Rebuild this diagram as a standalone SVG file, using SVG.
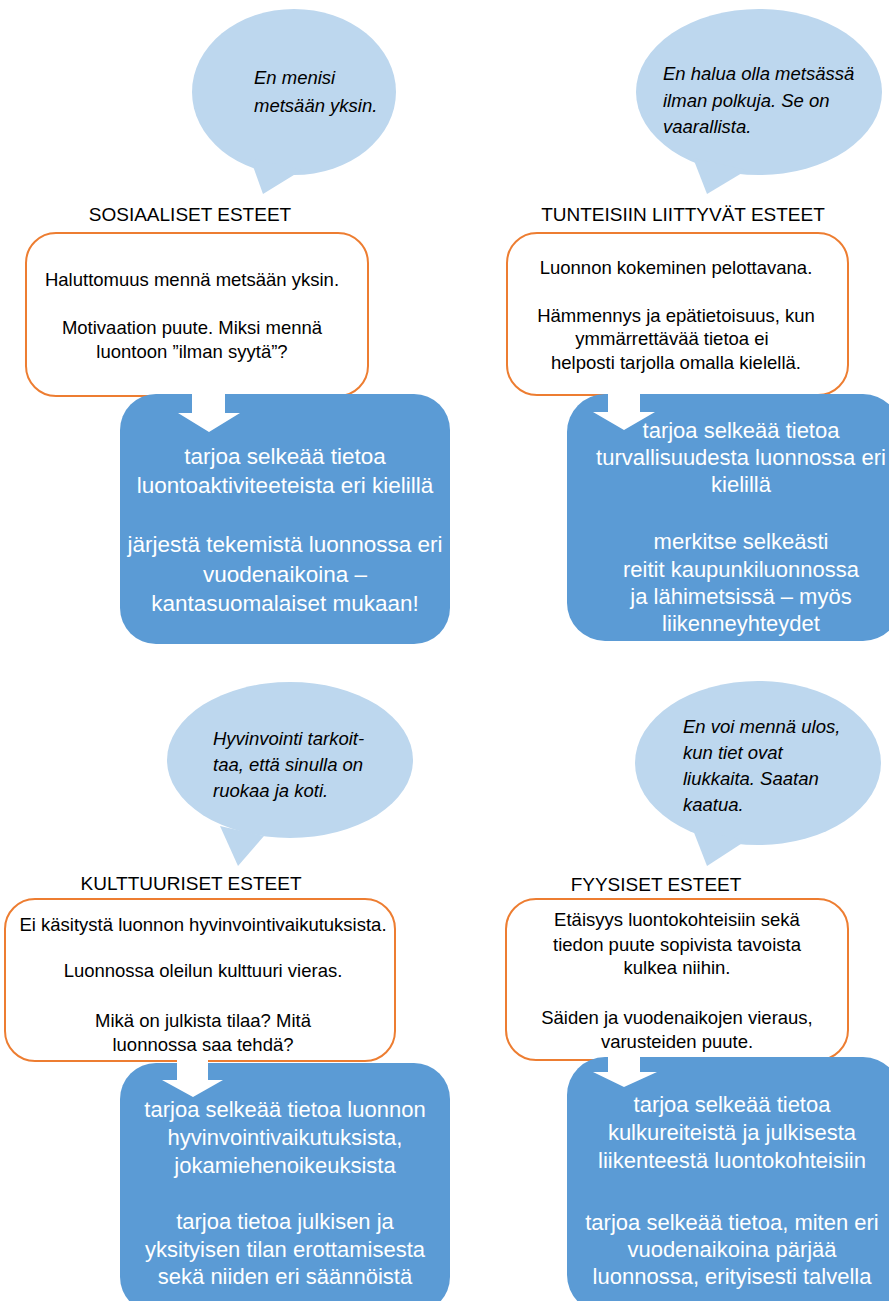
<svg xmlns="http://www.w3.org/2000/svg" width="889" height="1301" viewBox="0 0 889 1301">
<style>
.bub{fill:#BDD7EE;stroke:none}
.obox{fill:#FFFFFF;stroke:#ED7D31;stroke-width:2}
.bbox{fill:#5B9BD5;stroke:none}
.arr{fill:#FFFFFF;stroke:none}
text{font-family:"Liberation Sans",Arial,sans-serif}
.q{font-size:18.5px;font-style:italic;fill:#000}
.h{font-size:19px;fill:#000;text-anchor:middle}
.o{font-size:18.5px;fill:#000;text-anchor:middle}
.b{font-size:22px;fill:#FFFFFF;text-anchor:middle}
</style>
<rect width="889" height="1301" fill="#FFFFFF"/>

<g id="bubble-social">
<ellipse class="bub" cx="294" cy="92" rx="102" ry="83"/>
<polygon class="bub" points="250,158 302,170 263,194"/>
<text class="q" x="254" y="84">En menisi</text>
<text class="q" x="254" y="112">metsään yksin.</text>
</g>

<g id="bubble-emotional">
<ellipse class="bub" cx="759" cy="92" rx="123" ry="83"/>
<polygon class="bub" points="693,158 747,170 707,194"/>
<text class="q" x="663" y="80">En halua olla metsässä</text>
<text class="q" x="663" y="107">ilman polkuja. Se on</text>
<text class="q" x="663" y="133">vaarallista.</text>
</g>

<g id="bubble-cultural">
<ellipse class="bub" cx="290" cy="760" rx="123" ry="78"/>
<polygon class="bub" points="220,826 264,836 238,866"/>
<text class="q" x="213" y="745">Hyvinvointi tarkoit-</text>
<text class="q" x="213" y="771">taa, että sinulla on</text>
<text class="q" x="213" y="797">ruokaa ja koti.</text>
</g>

<g id="bubble-physical">
<ellipse class="bub" cx="758" cy="763" rx="123" ry="82"/>
<polygon class="bub" points="693,830 747,840 707,866"/>
<text class="q" x="683" y="733">En voi mennä ulos,</text>
<text class="q" x="683" y="759">kun tiet ovat</text>
<text class="q" x="683" y="785">liukkaita. Saatan</text>
<text class="q" x="683" y="811">kaatua.</text>
</g>

<g id="header-social"><text class="h" x="190" y="221">SOSIAALISET ESTEET</text></g>
<g id="header-emotional"><text class="h" x="683" y="221">TUNTEISIIN LIITTYVÄT ESTEET</text></g>
<g id="header-cultural"><text class="h" x="191" y="890">KULTTUURISET ESTEET</text></g>
<g id="header-physical"><text class="h" x="656" y="891">FYYSISET ESTEET</text></g>

<g id="barrier-social">
<rect class="obox" x="26" y="233" width="342" height="163" rx="30"/>
<text class="o" x="192" y="286">Haluttomuus mennä metsään yksin.</text>
<text class="o" x="192" y="334">Motivaation puute. Miksi mennä</text>
<text class="o" x="192" y="358">luontoon ”ilman syytä”?</text>
</g>

<g id="barrier-emotional">
<rect class="obox" x="507" y="233" width="341" height="162" rx="30"/>
<text class="o" x="676" y="274">Luonnon kokeminen pelottavana.</text>
<text class="o" x="676" y="322">Hämmennys ja epätietoisuus, kun</text>
<text class="o" x="672" y="345">ymmärrettävää tietoa ei</text>
<text class="o" x="676" y="369">helposti tarjolla omalla kielellä.</text>
</g>

<g id="barrier-cultural">
<rect class="obox" x="5" y="899" width="390" height="162" rx="30"/>
<text class="o" x="203" y="931">Ei käsitystä luonnon hyvinvointivaikutuksista.</text>
<text class="o" x="203" y="977">Luonnossa oleilun kulttuuri vieras.</text>
<text class="o" x="203" y="1027">Mikä on julkista tilaa? Mitä</text>
<text class="o" x="203" y="1051">luonnossa saa tehdä?</text>
</g>

<g id="barrier-physical">
<rect class="obox" x="506" y="899" width="342" height="161" rx="30"/>
<text class="o" x="677" y="926">Etäisyys luontokohteisiin sekä</text>
<text class="o" x="677" y="951">tiedon puute sopivista tavoista</text>
<text class="o" x="677" y="974">kulkea niihin.</text>
<text class="o" x="677" y="1024">Säiden ja vuodenaikojen vieraus,</text>
<text class="o" x="677" y="1048">varusteiden puute.</text>
</g>

<g id="solution-social">
<rect class="bbox" x="120" y="394" width="330" height="250" rx="36"/>
<text class="b" x="285" y="464" style="font-size:22.5px">tarjoa selkeää tietoa</text>
<text class="b" x="285" y="493" style="font-size:22.5px">luontoaktiviteeteista eri kielillä</text>
<text class="b" x="285" y="552" style="font-size:22.5px">järjestä tekemistä luonnossa eri</text>
<text class="b" x="285" y="582" style="font-size:22.5px">vuodenaikoina –</text>
<text class="b" x="285" y="611" style="font-size:22.5px">kantasuomalaiset mukaan!</text>
</g>

<g id="solution-emotional">
<rect class="bbox" x="567" y="394" width="334" height="247" rx="38"/>
<text class="b" x="741" y="438">tarjoa selkeää tietoa</text>
<text class="b" x="741" y="465">turvallisuudesta luonnossa eri</text>
<text class="b" x="741" y="492">kielillä</text>
<text class="b" x="741" y="549">merkitse selkeästi</text>
<text class="b" x="741" y="577">reitit kaupunkiluonnossa</text>
<text class="b" x="741" y="604">ja lähimetsissä – myös</text>
<text class="b" x="741" y="631">liikenneyhteydet</text>
</g>

<g id="solution-cultural">
<rect class="bbox" x="120" y="1063" width="330" height="250" rx="36"/>
<text class="b" x="285" y="1117">tarjoa selkeää tietoa luonnon</text>
<text class="b" x="285" y="1145">hyvinvointivaikutuksista,</text>
<text class="b" x="285" y="1173">jokamiehenoikeuksista</text>
<text class="b" x="285" y="1229">tarjoa tietoa julkisen ja</text>
<text class="b" x="285" y="1257">yksityisen tilan erottamisesta</text>
<text class="b" x="285" y="1284">sekä niiden eri säännöistä</text>
</g>

<g id="solution-physical">
<rect class="bbox" x="567" y="1057" width="334" height="256" rx="38"/>
<text class="b" x="732" y="1112">tarjoa selkeää tietoa</text>
<text class="b" x="732" y="1140">kulkureiteistä ja julkisesta</text>
<text class="b" x="732" y="1168">liikenteestä luontokohteisiin</text>
<text class="b" x="732" y="1230">tarjoa selkeää tietoa, miten eri</text>
<text class="b" x="732" y="1257">vuodenaikoina pärjää</text>
<text class="b" x="732" y="1284">luonnossa, erityisesti talvella</text>
</g>

<g id="connectors">
<polygon class="arr" points="192,390 225,390 225,413 240,413 209,432 178,413 192,413"/>
<polygon class="arr" points="608,390 640,390 640,412 655,412 624,430 593,412 608,412"/>
<polygon class="arr" points="177,1056 208,1056 208,1080 223,1080 193,1097 162,1080 177,1080"/>
<polygon class="arr" points="608,1055 640,1055 640,1072 657,1072 624,1087 593,1072 608,1072"/>
</g>
</svg>
